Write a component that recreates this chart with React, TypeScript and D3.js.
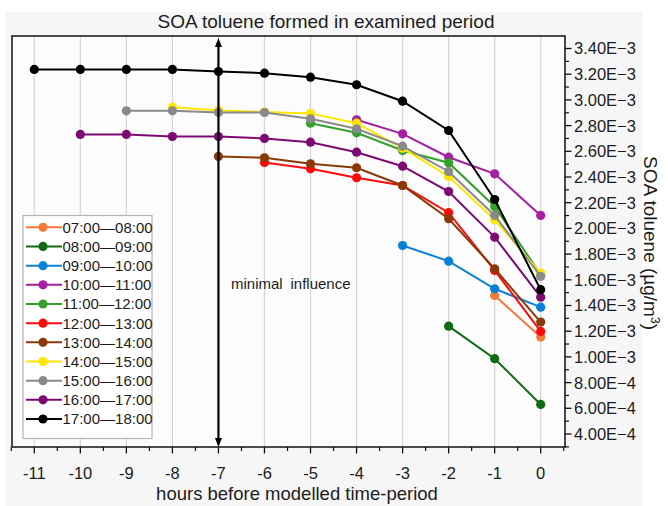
import React from "react";
import * as d3 from "d3";

// Values in µg/m³
const seriesNames = [
  "07:00\u201408:00",
  "08:00\u201409:00",
  "09:00\u201410:00",
  "10:00\u201411:00",
  "11:00\u201412:00",
  "12:00\u201413:00",
  "13:00\u201414:00",
  "14:00\u201415:00",
  "15:00\u201416:00",
  "16:00\u201417:00",
  "17:00\u201418:00",
];
const seriesColors = [
  "#f5793a",
  "#0f6a14",
  "#0b80d8",
  "#a3219f",
  "#32a02a",
  "#ff0a0a",
  "#8a3a08",
  "#ffe600",
  "#8a8a8a",
  "#7c0a72",
  "#000000",
];
const s0700 = [1.478e-3, 1.154e-3];
const s0800 = [1.239e-3, 0.986e-3, 0.63e-3];
const s0900 = [1.867e-3, 1.745e-3, 1.53e-3, 1.387e-3];
const s1000 = [2.845e-3, 2.736e-3, 2.554e-3, 2.425e-3, 2.101e-3];
const s1100 = [2.819e-3, 2.744e-3, 2.606e-3, 2.511e-3, 2.171e-3, 1.64e-3];
const s1200 = [2.513e-3, 2.464e-3, 2.394e-3, 2.334e-3, 2.122e-3, 1.673e-3, 1.198e-3];
const s1300 = [2.56e-3, 2.55e-3, 2.503e-3, 2.472e-3, 2.334e-3, 2.075e-3, 1.686e-3, 1.271e-3];
const s1400 = [2.943e-3, 2.918e-3, 2.905e-3, 2.895e-3, 2.819e-3, 2.624e-3, 2.404e-3, 2.067e-3, 1.652e-3];
const s1500 = [2.915e-3, 2.915e-3, 2.902e-3, 2.902e-3, 2.853e-3, 2.775e-3, 2.64e-3, 2.443e-3, 2.101e-3, 1.626e-3];
const s1600 = [2.731e-3, 2.731e-3, 2.715e-3, 2.715e-3, 2.7e-3, 2.671e-3, 2.593e-3, 2.484e-3, 2.287e-3, 1.932e-3, 1.465e-3];
const s1700 = [3.237e-3, 3.237e-3, 3.237e-3, 3.237e-3, 3.221e-3, 3.208e-3, 3.177e-3, 3.118e-3, 2.99e-3, 2.762e-3, 2.225e-3, 1.523e-3];
const seriesValues = [s0700, s0800, s0900, s1000, s1100, s1200, s1300, s1400, s1500, s1600, s1700];

const xTicks = [-11, -10, -9, -8, -7, -6, -5, -4, -3, -2, -1, 0];
const xTickLabels = ["-11", "-10", "-9", "-8", "-7", "-6", "-5", "-4", "-3", "-2", "-1", "0"];
const yTicks = [0.4e-3, 0.6e-3, 0.8e-3, 1.0e-3, 1.2e-3, 1.4e-3, 1.6e-3, 1.8e-3, 2.0e-3, 2.2e-3, 2.4e-3, 2.6e-3, 2.8e-3, 3.0e-3, 3.2e-3, 3.4e-3];
const yTickLabels = [
  "4.00E\u22124", "6.00E\u22124", "8.00E\u22124", "1.00E\u22123", "1.20E\u22123", "1.40E\u22123",
  "1.60E\u22123", "1.80E\u22123", "2.00E\u22123", "2.20E\u22123", "2.40E\u22123", "2.60E\u22123",
  "2.80E\u22123", "3.00E\u22123", "3.20E\u22123", "3.40E\u22123",
];
const markerHour = -7;

const W = 668;
const H = 506;
const L = 12, R = 565, T = 36, B = 447;
const FONT = "'Liberation Sans', Arial, Helvetica, sans-serif";
const TXT = "#1c1c1c";

export default function App() {
  const x = d3.scaleLinear().domain([-11, 0]).range([34.3, 540.7]);
  const y = d3.scaleLinear().domain([0.4e-3, 3.4e-3]).range([434, 48.5]);
  const line = d3
    .line<[number, number]>()
    .x((d) => x(d[0]))
    .y((d) => y(d[1]));

  const xMinor = d3.range(-11.5, 0.6, 1);
  const yMinor = d3.range(0.3e-3, 3.45e-3, 0.2e-3).filter((v) => y(v) <= B && y(v) >= T);

  const ax = x(markerHour);
  const legX = 23, legY = 215.5, legW = 129, legH = 223, legStep = 19.17, legFirst = 227.3;

  return (
    <svg
      width={W}
      height={H}
      viewBox={`0 0 ${W} ${H}`}
      style={{ position: "absolute", left: 0, top: 0, fontFamily: FONT }}
    >
      <rect x={0} y={0} width={W} height={H} fill="#ffffff" />
      <rect x={6} y={12} width={636} height={H - 12} fill="#f6f6f6" />
      <rect x={L} y={T} width={R - L} height={B - T} fill="#fcfcfc" />

      {/* vertical grid */}
      {xTicks.map((t) => (
        <line key={"g" + t} x1={x(t)} x2={x(t)} y1={T} y2={B} stroke="#d6d6d6" strokeWidth={1.2} />
      ))}

      {/* series */}
      {seriesValues.map((vals, i) => {
        const start = -(vals.length - 1);
        const pts: [number, number][] = vals.map((v, j) => [start + j, v]);
        return (
          <g key={"s" + i}>
            <path d={line(pts) || ""} fill="none" stroke={seriesColors[i]} strokeWidth={2} />
            {pts.map((p, j) => (
              <circle key={j} cx={x(p[0])} cy={y(p[1])} r={4.6} fill={seriesColors[i]} />
            ))}
          </g>
        );
      })}

      {/* double arrow at -7 */}
      <line x1={ax} x2={ax} y1={T + 8} y2={B - 8} stroke="#000" strokeWidth={2.2} />
      <path d={`M${ax},${T + 2} L${ax - 3.5},${T + 11} L${ax + 3.5},${T + 11} Z`} fill="#000" />
      <path d={`M${ax},${B} L${ax - 3.5},${B - 9} L${ax + 3.5},${B - 9} Z`} fill="#000" />
      <text x={231} y={289} fontSize={15} fill={TXT}>minimal</text>
      <text x={290.5} y={289} fontSize={15} fill={TXT}>influence</text>

      {/* legend */}
      <rect x={legX} y={legY} width={legW} height={legH} fill="#ffffff" stroke="#b4b4b4" strokeWidth={1.2} />
      {seriesNames.map((n, i) => {
        const ly = legFirst + i * legStep;
        return (
          <g key={"l" + i}>
            <line x1={26} x2={62} y1={ly} y2={ly} stroke={seriesColors[i]} strokeWidth={2} />
            <circle cx={43} cy={ly} r={4.6} fill={seriesColors[i]} />
            <text x={62.5} y={ly} dy="0.36em" fontSize={15} fill={TXT}>{n}</text>
          </g>
        );
      })}

      {/* frame */}
      <rect x={L} y={T} width={R - L} height={B - T} fill="none" stroke="#111" strokeWidth={1.5} />

      {/* bottom axis ticks */}
      {xTicks.map((t, i) => (
        <g key={"xt" + t}>
          <line x1={x(t)} x2={x(t)} y1={B} y2={B + 6.5} stroke="#111" strokeWidth={1.3} />
          <text x={x(t)} y={473} dy="0.36em" textAnchor="middle" fontSize={16.5} fill={TXT}>
            {xTickLabels[i]}
          </text>
        </g>
      ))}
      {xMinor.map((t) => (
        <line key={"xm" + t} x1={x(t)} x2={x(t)} y1={B} y2={B + 4} stroke="#111" strokeWidth={1.2} />
      ))}

      {/* right axis ticks */}
      {yTicks.map((t, i) => (
        <g key={"yt" + i}>
          <line x1={R} x2={R + 6.5} y1={y(t)} y2={y(t)} stroke="#111" strokeWidth={1.3} />
          <text x={574} y={y(t)} dy="0.36em" fontSize={16.5} fill={TXT}>
            {yTickLabels[i]}
          </text>
        </g>
      ))}
      {yMinor.map((t, i) => (
        <line key={"ym" + i} x1={R} x2={R + 4} y1={y(t)} y2={y(t)} stroke="#111" strokeWidth={1.2} />
      ))}

      {/* titles */}
      <text x={326} y={28} textAnchor="middle" fontSize={19} fill={TXT}>
        SOA toluene formed in examined period
      </text>
      <text x={297} y={500} textAnchor="middle" fontSize={18.5} fill={TXT}>
        hours before modelled time-period
      </text>
      <text
        transform={`translate(651,243) rotate(90)`}
        textAnchor="middle"
        dy="0.36em"
        fontSize={19}
        fill={TXT}
      >
        SOA toluene (µg/m<tspan fontSize={12} dy="-7">3</tspan><tspan dy="7">)</tspan>
      </text>
    </svg>
  );
}
